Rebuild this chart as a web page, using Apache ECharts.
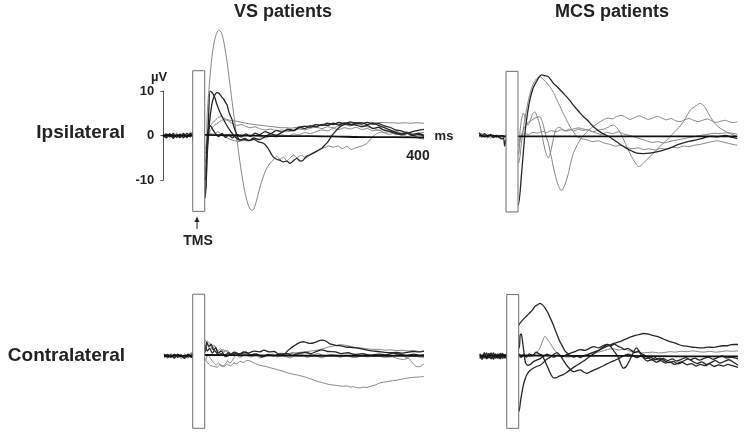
<!DOCTYPE html>
<html><head><meta charset="utf-8">
<script src="https://cdn.jsdelivr.net/npm/echarts@6/dist/echarts.min.js"></script>
<style>html,body{margin:0;padding:0;background:#fff}#c{width:748px;height:441px}</style>
</head><body><div id="c"></div>
<script>
// ---------- DATA (time in ms relative to TMS, amplitude in µV) ----------
const panelTitles = ['VS patients', 'MCS patients'];
const rowTitles = ['Ipsilateral', 'Contralateral'];
const scaleTicks = [-10, 0, 10];
const timeLabel = '400';
const stimWindow = [[-7.6, 13.5], [-17, 14.6]]; // [ms range], [µV range]

// VS ipsilateral
const tlA = [[-60,0.3],[-54,-0.4],[-48,0.5],[-42,-0.2],[-36,0.6],[-30,-0.5],[-24,0.4],[-18,-0.3],[-12,0.8],[-8,0.2],
 [14,-6],[18,5],[22,12],[27,18.5],[32,22],[38,23.7],[43,23.2],[48,20.5],[53,16.5],[58,11.5],[63,6.5],[68,1.5],[73,-3.5],[78,-8],[84,-12.5],[90,-15.5],[96,-16.8],[100,-16.5],[105,-14.5],[110,-12],[116,-9.5],[122,-7.5],[128,-6.3],[134,-5.5],[140,-4.6],[146,-5.3],[152,-4.8],[158,-5.6],[164,-5],[170,-4.3],[176,-4.9],[184,-4.4],[192,-5],[200,-4.2],[208,-3.6],[216,-3.1],[224,-2.7],[232,-2.3],[240,-2.6],[248,-2.3],[256,-2.9],[264,-2.4],[272,-3.1],[280,-2.7],[288,-2.4],[296,-2],[302,-1.4],[308,-0.4],[316,0.4],[326,0.8],[338,0.3],[350,0.7],[362,0.1],[374,0.5],[386,-0.2],[396,0.3],[400,-0.3]];
const tlD1 = [[-60,-0.3],[-54,0.4],[-48,-0.2],[-42,0.5],[-36,-0.4],[-30,0.3],[-24,-0.5],[-18,0.6],[-12,-0.2],[-8,0.4],
 [14,-14],[17,-6],[20,3],[23,10],[27,9.6],[31,8.7],[35,7],[40,5.4],[46,3.8],[52,2.4],[58,1.2],[64,0.2],[70,-0.6],[76,-1],[84,-0.6],[92,-1.1],[100,-0.5],[110,-0.9],[120,-0.2],[130,0.4],[140,0.1],[150,0.8],[160,1.3],[170,1.1],[180,1.8],[190,2.1],[200,1.9],[210,2.5],[220,2.3],[230,2.8],[240,2.5],[250,3],[260,2.7],[270,3.1],[280,2.8],[290,2.9],[300,2.5],[310,2.8],[320,2.3],[330,1.8],[340,1.3],[350,0.8],[360,0.4],[370,0.5],[380,0.9],[390,1.2],[400,1.4]];
const tlD2 = [[-60,0.1],[-54,-0.5],[-48,0.3],[-42,-0.6],[-36,0.2],[-30,-0.3],[-24,0.5],[-18,-0.4],[-12,0.3],[-8,-0.2],
 [14,-13],[18,-4],[22,3],[26,7],[30,8.8],[35,9.7],[39,9.5],[43,8.8],[47,8.2],[50,7.5],[53,6.9],[56,5.4],[59,4.4],[62,3.5],[65,2],[68,0.9],[72,-0.4],[76,-1],[84,-0.9],[93,-1.1],[100,-0.8],[108,-1.4],[117,-1.7],[124,-2.6],[130,-3.9],[134,-4.7],[140,-5.3],[146,-5.5],[152,-5.9],[158,-5.7],[164,-6.2],[170,-5.6],[176,-5.1],[182,-5.7],[187,-5.5],[193,-4.6],[199,-4.3],[205,-3.9],[212,-3.4],[220,-2.8],[226,-2],[230,-1.5],[235,-0.5],[240,0.4],[245,1.1],[250,1.8],[256,2.3],[264,2.6],[272,2.4],[280,2.9],[290,2.6],[300,3],[310,2.6],[320,2.7],[330,2.2],[340,1.9],[350,1.3],[360,1.1],[370,0.6],[380,0.3],[390,0.5],[400,0.1]];
const tlG1 = [[-60,-0.2],[-54,0.3],[-48,-0.4],[-42,0.2],[-36,-0.3],[-30,0.5],[-24,-0.2],[-18,0.3],[-12,-0.4],[-8,0.9],
 [14,-3],[18,0],[22,1.8],[27,2.9],[32,3.4],[37,4.1],[42,4.3],[47,4],[52,3.7],[60,3.4],[68,3.3],[76,3.1],[86,2.8],[96,2.6],[106,2.4],[116,2.3],[126,2.1],[136,2],[146,1.8],[156,1.8],[166,1.7],[176,1.9],[186,2.1],[196,2.2],[206,2.4],[216,2.5],[226,2.6],[236,2.7],[246,2.8],[256,2.8],[266,2.9],[276,2.9],[286,3],[296,2.9],[306,3],[316,2.9],[326,3],[336,2.9],[346,2.9],[356,2.8],[366,2.9],[376,2.8],[386,2.9],[400,2.8]];
const tlG2 = [[-60,0.4],[-54,-0.1],[-48,0.2],[-42,-0.4],[-36,0.4],[-30,-0.2],[-24,0.1],[-18,-0.5],[-12,0.2],[-8,-0.3],
 [14,-8],[18,-2],[22,0.8],[28,2],[34,2.6],[40,3.2],[46,3.6],[52,3.5],[58,3.1],[64,2.6],[70,2.3],[78,2.5],[86,2.1],[94,1.8],[102,2],[110,1.6],[120,1.3],[130,1.5],[140,1.1],[150,1.3],[160,0.9],[170,1.2],[180,1.5],[190,1.3],[200,1.7],[210,1.9],[220,1.6],[230,2],[240,1.8],[250,2.2],[260,2.5],[270,2.2],[280,2.6],[290,2.3],[300,2],[310,1.7],[320,1.2],[330,1.4],[340,0.8],[350,1.1],[360,0.6],[370,0.9],[380,0.3],[390,0.6],[400,0.7]];
const tlG3 = [[-60,-0.1],[-54,0.2],[-48,-0.3],[-42,0.4],[-36,-0.1],[-30,0.2],[-24,-0.3],[-18,0.4],[-12,-0.1],[-8,0.3],
 [14,-4],[18,-1],[24,0.5],[30,0.3],[36,0.9],[42,0.4],[50,-0.3],[58,-0.8],[66,-1.1],[74,-1.3],[82,-1],[90,-1.2],[98,-0.6],[106,-0.8],[114,-0.3],[122,-0.5],[130,0],[140,-0.3],[150,0.2],[160,-0.1],[170,0.4],[180,0.2],[190,0.7],[200,0.5],[210,0.9],[220,1.3],[230,1.1],[240,1.6],[250,1.4],[260,1.8],[270,1.5],[280,1.9],[290,1.4],[300,1.6],[310,1.1],[320,1.3],[330,0.7],[340,0.9],[350,0.2],[360,0.5],[370,-0.2],[380,0.1],[390,-0.5],[400,-0.8]];
const tlD3 = [[-60,0.2],[-54,-0.2],[-48,0.4],[-42,-0.3],[-36,0.1],[-30,-0.4],[-24,0.3],[-18,-0.2],[-12,0.5],[-8,-0.1],
 [14,-10],[17,-3],[20,1.5],[24,2.2],[28,1.3],[33,0.4],[38,-0.2],[44,0.5],[50,-0.4],[56,0.2],[62,-0.5],[70,0.3],[78,-0.3],[86,0.4],[94,-0.2],[102,0.6],[110,0.2],[120,0.9],[130,0.5],[140,1.2],[150,0.8],[160,1.5],[170,1.2],[180,1.9],[190,1.6],[200,2.2],[210,2],[220,2.5],[230,2.3],[240,2.8],[250,2.4],[260,2.9],[270,2.6],[280,2.4],[290,2],[300,2.3],[310,1.6],[320,1.9],[330,1.2],[340,1],[350,0.5],[360,0.2],[370,0.6],[380,0],[390,0.3],[400,-0.1]];
const tlK = [[-60,0],[-50,0.2],[-40,-0.1],[-30,0.1],[-20,-0.1],[-8,0.1],[14,0.2],[50,0.1],[100,0],[150,-0.1],[200,-0.1],[250,-0.2],[300,-0.3],[350,-0.3],[400,-0.4]];

// MCS ipsilateral
const trR1 = [[-55,0.8],[-50,0.2],[-45,0.6],[-40,-0.1],[-35,0.4],[-30,-0.3],[-25,0.2],[-20,-0.2],[-15,-0.6],[-12,-0.4],[-10,-2.2],[-8,-0.8],
 [14,-15.4],[20,-8],[26,1],[30,5],[35,8.5],[40,10.8],[46,12.3],[50,13.2],[55,13.8],[61,13.6],[67,13.4],[72,12.6],[76,11.9],[82,11.2],[88,10.4],[94,9.6],[99,8.9],[105,8],[111,7],[117,6.1],[123,5.2],[129,4.4],[135,3.7],[141,2.9],[146,2.2],[152,1.6],[158,1],[165,0.5],[173,0],[180,-0.6],[188,-1.3],[196,-2],[205,-2.7],[214,-3.3],[223,-3.8],[234,-3.9],[246,-3.8],[258,-3.5],[270,-3.1],[282,-2.6],[293,-2],[305,-1.5],[316,-1.1],[328,-0.8],[340,-0.4],[352,0],[365,-0.1],[378,0.2],[390,-0.2],[400,-0.5]];
const trR2 = [[-55,0.3],[-50,0.6],[-45,0.1],[-40,0.5],[-35,0],[-30,0.4],[-25,-0.2],[-20,0.3],[-15,-0.3],[-8,0.1],
 [14,-6],[20,-1],[25,3.5],[30,7],[35,9.8],[40,11.7],[46,12.9],[52,13.4],[58,12.8],[64,12],[70,11.1],[76,9.8],[82,8.2],[88,6.6],[93,5.2],[99,3.7],[105,2.2],[111,1],[117,0],[125,-0.5],[135,-0.8],[145,-1.2],[155,-1],[165,-1.5],[175,-1.8],[185,-2.2],[195,-2],[205,-2.5],[215,-2.8],[225,-2.6],[235,-3],[245,-2.8],[255,-3.1],[265,-2.7],[275,-2.9],[285,-2.5],[295,-2.6],[305,-2.2],[315,-2.3],[325,-2],[335,-1.8],[345,-1.5],[355,-1.2],[365,-1],[375,-1.3],[385,-1.6],[395,-1.9],[400,-2]];
const trR3 = [[-55,0.5],[-50,0],[-45,0.4],[-40,-0.2],[-35,0.3],[-30,-0.1],[-25,0.1],[-20,-0.4],[-15,0.2],[-8,-0.3],
 [14,-2],[20,0.5],[26,2.2],[32,3.2],[40,3.8],[47,4.3],[52,4.4],[57,3],[62,0.5],[67,-1.6],[72,-4.5],[77,-7.6],[83,-10.5],[88,-12],[91,-12.1],[95,-11.2],[99,-9.8],[103,-8],[106,-6.1],[111,-3.8],[117,-2.2],[123,-0.8],[129,0.2],[135,1],[140,1.6],[146,2.2],[155,3],[164,3.7],[172,4.1],[180,3.9],[187,4.4],[195,4.7],[203,4.3],[211,3.8],[219,4.2],[227,4.6],[235,4.2],[243,3.8],[251,4.1],[259,4.5],[267,4.1],[275,3.7],[283,4],[291,3.5],[299,3.3],[307,3.7],[315,4],[323,3.6],[331,3.3],[339,3.6],[347,3.9],[355,3.5],[363,3.1],[371,3.4],[379,3.6],[387,3.2],[395,3.1],[400,3.3]];
const trR4 = [[-55,-0.2],[-50,0.3],[-45,-0.3],[-40,0.2],[-35,-0.4],[-30,0.1],[-25,-0.3],[-20,0.2],[-15,-0.5],[-8,0],
 [14,-4],[17,1],[20,4],[23,5.2],[27,4],[31,2.5],[35,3.5],[39,5],[43,5.5],[47,4.5],[52,2.5],[57,-0.5],[62,-3.5],[67,-4.9],[71,-3.5],[76,-0.5],[80,1.5],[85,2],[90,1.8],[96,1.2],[104,1.6],[112,1.2],[120,1.6],[128,1.3],[136,1.5],[145,1],[155,1.4],[164,1.6],[172,2],[177,2.4],[182,2.5],[187,2],[193,1],[199,-0.6],[205,-2.3],[211,-3.9],[217,-5.3],[222,-6.3],[226,-6.8],[230,-6.6],[234,-6.1],[240,-5.3],[246,-4.6],[252,-3.8],[258,-3.1],[264,-2.2],[270,-1.5],[276,-0.8],[284,0.3],[293,1.4],[299,2.3],[305,3.3],[311,4.6],[317,5.9],[322,6.4],[328,6.9],[334,7.4],[340,7],[346,5.9],[352,4.5],[358,3.3],[364,2.4],[370,1.8],[381,1],[390,0.5],[400,-0.1]];
const trR5 = [[-55,0.1],[-50,-0.3],[-45,0.2],[-40,-0.4],[-35,0.1],[-30,-0.2],[-25,0.3],[-20,-0.1],[-15,0.1],[-8,-0.4],
 [14,-1],[20,0.2],[26,0.6],[32,0.4],[40,0.9],[48,0.7],[56,1.1],[64,0.8],[72,1.3],[80,1],[90,1.5],[100,1.2],[110,1.6],[120,1.9],[130,1.6],[140,1.3],[150,0.8],[160,0.4],[170,0.9],[180,0.6],[190,1],[200,0.5],[210,0.2],[220,-0.2],[230,-0.6],[240,-1],[250,-1.4],[260,-1.2],[270,-1.5],[280,-1.2],[290,-0.9],[300,-0.7],[310,-0.4],[320,-0.2],[330,0.1],[340,0.3],[350,0.5],[360,0.7],[370,0.6],[380,0.8],[390,0.7],[400,0.5]];
const trK = [[-55,0.2],[-45,0],[-35,0.2],[-25,0],[-15,0.1],[-8,0],[14,0],[100,0],[200,0],[300,0],[400,0]];

// VS contralateral
const blA = [[-58,0.2],[-52,-0.5],[-46,0.3],[-40,-0.4],[-34,0.2],[-28,-0.6],[-22,0.1],[-16,-0.4],[-10,0.6],[-8,0],
 [14,-0.7],[18,-1.5],[23,-2.2],[29,-2.4],[35,-2.6],[41,-2],[47,-2.5],[53,-1.9],[59,-2.3],[65,-1.6],[70,-1.8],[76,-1.2],[82,-1.5],[88,-1],[93,-1.1],[100,-1.6],[106,-1.9],[111,-2.2],[120,-2.4],[128,-2.7],[134,-2.9],[142,-3.2],[150,-3.5],[157,-3.8],[164,-4.1],[175,-4.4],[187,-4.8],[199,-5.3],[211,-5.9],[222,-6.3],[234,-6.7],[246,-6.9],[258,-7.1],[264,-7.0],[270,-7.3],[276,-7.2],[281,-7.4],[287,-7.5],[293,-7.3],[299,-7.4],[305,-7.1],[314,-6.8],[322,-6.3],[331,-6.1],[340,-5.9],[349,-5.7],[358,-5.5],[369,-5.2],[381,-5],[392,-4.9],[400,-4.8]];
const blD1 = [[-58,-0.3],[-52,0.4],[-46,-0.2],[-40,0.5],[-34,-0.3],[-28,0.3],[-22,-0.5],[-16,0.2],[-10,-0.3],[-8,0.4],
 [14,2.5],[18,1.2],[22,1.8],[27,0.7],[31,1.3],[37,0.4],[44,0.6],[50,-0.1],[58,0.3],[66,0.8],[74,0.5],[82,1],[90,0.7],[100,1.2],[110,1],[118,1.4],[128,1],[136,1.1],[142,0.6],[148,0.3],[154,0.5],[160,1.3],[166,2],[172,2.5],[178,3],[183,3.3],[188,3.4],[193,3.2],[199,3],[205,3.1],[211,3.4],[217,3.7],[223,3.8],[229,3.4],[234,2.9],[240,2.7],[246,2.5],[252,2.5],[258,2.3],[264,2.1],[270,2.1],[282,1.9],[290,1.7],[300,1.4],[311,1.2],[320,1.1],[330,0.9],[340,0.8],[350,0.9],[360,0.7],[370,0.9],[380,1.1],[390,1],[400,1.2]];
const blG1 = [[-58,0.4],[-52,-0.2],[-46,0.6],[-40,-0.1],[-34,0.4],[-28,-0.3],[-22,0.5],[-16,-0.1],[-10,0.9],[-8,0.3],
 [14,1.5],[18,3.6],[22,3.1],[27,1.6],[31,2.4],[36,1.2],[41,1.8],[47,1.0],[53,1.3],[60,0.6],[66,1.1],[74,0.5],[82,0.8],[92,0.3],[102,0.5],[112,0],[124,0.3],[136,0.1],[146,0.5],[158,0.4],[170,0.7],[182,0.9],[194,1.1],[206,1.3],[218,1.6],[228,2],[236,2.3],[244,2.5],[252,2.7],[260,2.6],[268,2.4],[276,2.1],[284,2],[292,1.9],[302,1.7],[312,1.6],[322,1.6],[332,1.4],[342,1.5],[352,1.3],[362,1.4],[372,1.2],[382,1.3],[392,1.1],[400,1.2]];
const blG2 = [[-58,-0.1],[-52,0.3],[-46,-0.4],[-40,0.1],[-34,-0.2],[-28,0.4],[-22,-0.3],[-16,0.3],[-10,-0.2],[-8,0.2],
 [14,3.8],[17,3.2],[21,2],[24,1.6],[29,2.6],[33,2.2],[38,1],[44,1.5],[52,1.2],[58,0.4],[63,0.9],[70,0.6],[78,-0.1],[86,0.5],[92,0.2],[103,0.6],[110,0.3],[118,-0.2],[130,0.4],[140,0.2],[146,0.7],[158,0.5],[170,0.9],[176,0.4],[190,0.8],[204,0.3],[212,0.6],[226,0.1],[236,0.4],[252,-0.2],[262,0.2],[275,-0.3],[290,0.1],[300,-0.2],[316,0.2],[330,-0.3],[342,-0.1],[352,-0.5],[364,-0.8],[372,-0.5],[380,-1.6],[386,-2.4],[392,-2.5],[400,-1.8]];
const blG3 = [[-58,0.1],[-52,-0.4],[-46,0.2],[-40,-0.3],[-34,0.5],[-28,-0.1],[-22,0.2],[-16,-0.5],[-10,0.3],[-8,-0.2],
 [14,-1],[19,0.3],[24,-0.6],[29,-1.5],[34,-2.1],[38,-1.6],[43,-2.4],[49,-2],[54,-1.1],[58,-1.7],[64,-0.6],[69,0.3],[76,-0.3],[84,0.4],[95,-0.2],[104,0.3],[110,-0.4],[122,0.1],[134,0.5],[141,-0.2],[150,0.1],[165,-0.4],[172,0.2],[186,0.3],[194,-0.3],[206,0.2],[220,-0.4],[229,0.1],[244,0.3],[252,-0.2],[266,0.1],[280,-0.3],[292,0.2],[304,0.4],[312,-0.1],[326,0.2],[340,-0.2],[350,0.3],[362,0.5],[368,-0.4],[380,0.1],[392,-0.2],[400,-0.3]];
const blD2 = [[-58,0.5],[-52,-0.1],[-46,0.3],[-40,-0.5],[-34,0.4],[-28,0],[-22,-0.4],[-16,0.5],[-10,0],[-8,0.6],
 [14,1],[17,3.3],[21,2.3],[25,2.8],[29,1.4],[33,2],[37,0.7],[43,1.2],[49,0.1],[55,0.8],[62,0.2],[69,0.7],[78,0.5],[86,1],[94,0.3],[106,0.5],[114,-0.2],[126,0.4],[134,0.1],[146,0.5],[160,0.6],[168,0.2],[180,0.7],[192,0.9],[200,0.6],[212,1.2],[220,1.5],[230,1.1],[244,1],[254,0.6],[266,0.8],[278,0.4],[292,0.6],[304,0.2],[320,0.5],[332,0.3],[346,0.7],[358,0.4],[370,0.2],[382,0.5],[392,0.2],[400,0.3]];
const blK = [[-58,0.1],[-48,-0.1],[-38,0.2],[-28,0],[-18,0.1],[-8,0],[14,0.3],[100,0.2],[200,0.1],[300,0.1],[400,0.1]];

// MCS contralateral
const brD1 = [[-55,0.6],[-51,-0.4],[-47,0.9],[-43,-0.2],[-39,0.7],[-35,-0.5],[-31,0.8],[-27,-0.1],[-23,0.6],[-19,-0.4],[-15,0.5],[-11,0.2],[-8,0.3],
 [14,7.5],[18,8.2],[22,8.8],[28,9.6],[33,10.3],[38,11],[42,11.8],[47,12.2],[51,12.5],[56,12.1],[60,11.4],[65,10.3],[69,9.1],[74,7.6],[78,6.2],[82,4.8],[86,3.5],[91,2.3],[95,1.3],[100,0.7],[104,0.2],[110,-0.2],[116,0.1],[122,-0.3],[130,0.2],[138,0.6],[146,1],[154,1.4],[163,2],[170,2.4],[178,2.9],[185,3.2],[192,3.5],[199,3.9],[206,4.3],[214,4.7],[221,5],[227,5.2],[233,5.4],[240,5.3],[248,5],[257,4.7],[265,4.3],[272,3.9],[280,3.5],[288,3.2],[295,2.8],[303,2.5],[310,2.4],[318,2.2],[326,2.1],[333,2],[340,2],[348,2.2],[356,2.1],[364,2.3],[372,2.5],[380,2.5],[386,2.7],[392,2.8],[400,2.8]];
const brG1 = [[-55,-0.3],[-51,0.5],[-47,-0.6],[-43,0.4],[-39,-0.2],[-35,0.6],[-31,-0.4],[-27,0.5],[-23,-0.3],[-19,0.4],[-15,-0.2],[-11,0.5],[-8,0],
 [14,-0.2],[20,0],[26,0.3],[32,-0.1],[38,0.2],[44,0.6],[48,1.4],[51,2],[55,3.4],[58,4.4],[60,4.8],[63,4.2],[66,3.6],[69,3.1],[73,2.2],[78,1.3],[82,0.7],[86,0.2],[92,0],[100,-0.2],[110,0],[120,-0.1],[130,0.3],[140,0.6],[150,0.9],[160,1.2],[170,1.6],[180,1.8],[190,1.5],[200,1.7],[210,1.2],[220,1],[230,0.8],[240,0.9],[250,1],[260,0.8],[270,0.9],[280,1.1],[290,1],[300,1.2],[310,1.1],[320,1.3],[330,1.1],[340,1],[350,1.2],[360,1],[370,1.1],[380,1.3],[390,1.2],[400,1.3]];
const brD2 = [[-55,0.2],[-51,-0.7],[-47,0.3],[-43,-0.5],[-39,0.4],[-35,-0.6],[-31,0.2],[-27,-0.5],[-23,0.3],[-19,-0.6],[-15,0.3],[-11,-0.4],[-8,0.2],
 [14,2],[16,5],[18,5.3],[20,3.8],[22,1.7],[25,-1.3],[28,-2],[31,-2.1],[35,-1.8],[39,-1.3],[45,-0.9],[51,-0.6],[57,0],[63,0.5],[69,0.2],[75,-0.2],[82,0.3],[90,-0.1],[98,0.4],[106,0.8],[114,1.2],[122,1.6],[130,1.4],[138,1.9],[146,2.3],[154,2],[162,2.5],[169,2.8],[175,2.4],[181,1.3],[187,0.2],[192,-1.3],[198,-2.8],[203,-2.4],[208,-1.2],[213,0.2],[217,1.3],[221,2],[225,1.4],[230,0.2],[235,-0.6],[240,-1.1],[248,-0.8],[256,-1.4],[264,-1],[272,-1.6],[280,-1.3],[288,-1.9],[296,-1.5],[304,-1.1],[312,-0.6],[320,-1.2],[328,-1.7],[336,-1.3],[344,-1.9],[352,-1.5],[360,-1],[368,-1.6],[376,-1.2],[384,-0.8],[392,-1.4],[400,-2.1]];
const brD3 = [[-55,-0.5],[-51,0.3],[-47,-0.2],[-43,0.8],[-39,-0.4],[-35,0.3],[-31,-0.7],[-27,0.4],[-23,-0.2],[-19,0.7],[-15,-0.5],[-11,0.4],[-8,-0.2],
 [14,-13],[17,-10.3],[20,-8],[22,-6.6],[25,-5.3],[28,-4.3],[33,-3.4],[39,-2.8],[45,-2.4],[51,-2.1],[56,-1.6],[60,-1],[65,-0.5],[69,-0.2],[75,0.4],[81,0.9],[86,0.3],[92,-0.9],[98,-2.1],[104,-3],[110,-3.6],[116,-3.4],[122,-3.2],[128,-3.7],[133,-4],[139,-3.7],[145,-3.3],[152,-2.9],[160,-2.4],[167,-1.9],[175,-1.4],[182,-1],[190,-0.5],[198,0.1],[206,0.5],[214,0.2],[222,-0.3],[230,0.1],[238,-0.5],[246,-0.2],[254,-0.8],[262,-0.4],[270,-1],[278,-1.5],[286,-1.2],[294,-1.8],[302,-1.4],[310,-2],[318,-1.7],[326,-2.3],[334,-1.9],[342,-2.2],[350,-1.8],[358,-2.4],[366,-2],[374,-2.3],[382,-1.9],[390,-2.2],[400,-2.6]];
const brD4 = [[-55,0.4],[-51,-0.2],[-47,0.5],[-43,-0.6],[-39,0.1],[-35,0.8],[-31,-0.3],[-27,0.6],[-23,-0.5],[-19,0.2],[-15,0.7],[-11,-0.3],[-8,0.5],
 [14,0.5],[18,-0.3],[22,0.4],[27,-0.2],[32,0.6],[38,0.2],[44,1],[49,0.6],[54,0.3],[58,-0.6],[62,-1.8],[66,-3],[70,-4.2],[75,-5.1],[80,-5],[86,-4.6],[92,-4.3],[98,-3.8],[104,-3.2],[110,-2.6],[116,-2.1],[122,-1.6],[128,-1.1],[134,-0.5],[140,0.1],[146,0.6],[152,1.2],[158,1.7],[164,2.3],[170,2.8],[176,2.5],[182,2.9],[188,2.4],[194,2.1],[200,1.6],[206,1.9],[212,1.4],[218,0.9],[224,1.2],[230,0.6],[236,0.2],[242,-0.4],[248,-0.7],[254,-0.3],[260,-0.9],[268,-0.5],[276,-1],[284,-0.6],[292,-1.1],[300,-0.7],[308,-0.3],[316,-0.8],[324,-0.4],[332,-0.9],[340,-0.5],[348,-0.2],[356,-0.7],[364,-0.3],[372,0.1],[380,-0.4],[388,-0.2],[400,-0.6]];
const brK = [[-55,0.2],[-45,-0.1],[-35,0.3],[-25,0],[-15,0.2],[-8,0.1],[14,0.2],[100,0.1],[200,0.1],[300,0],[400,0]];

// ---------- CHART ----------
const GRAY = '#858585', DARK = '#262626', BLACK = '#111';
const panels = [
  { grid:{left:163, top:24.45, width:261, height:200.25}, y:[-20,25],
    traces:[[tlG1,GRAY],[tlG2,GRAY],[tlG3,GRAY],[tlA,GRAY],[tlD3,DARK],[tlD1,DARK],[tlD2,DARK],[tlK,BLACK]] },
  { grid:{left:476.3, top:25.05, width:261, height:200.25}, y:[-20,25],
    traces:[[trR5,GRAY],[trR4,GRAY],[trR3,GRAY],[trR2,GRAY],[trR1,DARK],[trK,BLACK]] },
  { grid:{left:163, top:271.3, width:261, height:178}, y:[-20,20],
    traces:[[blG3,GRAY],[blG2,GRAY],[blG1,GRAY],[blA,GRAY],[blD2,DARK],[blD1,DARK],[blK,BLACK]] },
  { grid:{left:477, top:271.7, width:261, height:178}, y:[-20,20],
    traces:[[brG1,GRAY],[brD4,DARK],[brD3,DARK],[brD2,DARK],[brD1,DARK],[brK,BLACK]] }
];

const grid = [], xAxis = [], yAxis = [], series = [];
panels.forEach((p, i) => {
  grid.push(p.grid);
  xAxis.push({type:'value', gridIndex:i, min:-60, max:400, show:false});
  yAxis.push({type:'value', gridIndex:i, min:p.y[0], max:p.y[1], show:false});
  p.traces.forEach(([d, c]) => {
    series.push({
      type:'line', xAxisIndex:i, yAxisIndex:i, data:d, symbol:'none', smooth:0.25,
      lineStyle:{color:c, width: c===BLACK ? 1.8 : (c===DARK ? 1.3 : 1)},
      silent:true
    });
  });
  series.push({
    type:'line', xAxisIndex:i, yAxisIndex:i, data:[], silent:true,
    markArea:{ z:20, silent:true,
      itemStyle:{color:'#fff', borderColor:'#6e6e6e', borderWidth:1},
      data:[[{coord:[stimWindow[0][0], stimWindow[1][1]]},{coord:[stimWindow[0][1], stimWindow[1][0]]}]]
    }
  });
});
// scale bar axis
grid.push({left:163.3, top:91.2, width:1, height:89});
xAxis.push({type:'value', gridIndex:4, min:0, max:1, show:false});
yAxis.push({type:'value', gridIndex:4, min:-10, max:10, interval:10, position:'left',
  axisLine:{show:true, lineStyle:{color:'#555', width:1}},
  axisTick:{show:true, length:3, lineStyle:{color:'#555'}},
  splitLine:{show:false},
  axisLabel:{margin:9, color:'#222', fontSize:13, fontWeight:'bold', fontFamily:'Liberation Sans, Arial, sans-serif',
    formatter: v => scaleTicks.includes(v) ? String(v) : ''}
});

const TXT = {fill:'#222', fontFamily:'Liberation Sans, Arial, sans-serif', fontWeight:'bold'};
const chart = echarts.init(document.getElementById('c'), null, {renderer:'canvas'});
chart.setOption({
  animation:false, backgroundColor:'#fff',
  grid, xAxis, yAxis, series,
  graphic:[
    {type:'text', x:283, y:12, style:Object.assign({text:panelTitles[0], fontSize:18, align:'center', verticalAlign:'middle'}, TXT)},
    {type:'text', x:612, y:12, style:Object.assign({text:panelTitles[1], fontSize:18, align:'center', verticalAlign:'middle'}, TXT)},
    {type:'text', x:125, y:133, style:Object.assign({text:rowTitles[0], fontSize:19, align:'right', verticalAlign:'middle'}, TXT)},
    {type:'text', x:125, y:356, style:Object.assign({text:rowTitles[1], fontSize:19, align:'right', verticalAlign:'middle'}, TXT)},
    {type:'text', x:159, y:77, style:Object.assign({text:'µV', fontSize:13, align:'center', verticalAlign:'middle'}, TXT)},
    {type:'text', x:444, y:136, style:Object.assign({text:'ms', fontSize:13, align:'center', verticalAlign:'middle'}, TXT)},
    {type:'text', x:418, y:156, style:Object.assign({text:timeLabel, fontSize:14, align:'center', verticalAlign:'middle'}, TXT)},
    {type:'text', x:198, y:241, style:Object.assign({text:'TMS', fontSize:14, align:'center', verticalAlign:'middle'}, TXT)},
    {type:'line', shape:{x1:197, y1:229, x2:197, y2:220}, style:{stroke:'#222', lineWidth:1}},
    {type:'polygon', shape:{points:[[194.5,222],[197,216.5],[199.5,222]]}, style:{fill:'#222'}}
  ]
});
</script></body></html>
